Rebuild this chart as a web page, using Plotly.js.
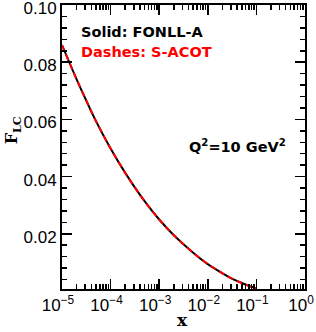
<!DOCTYPE html>
<html>
<head>
<meta charset="utf-8">
<script src="https://cdn.plot.ly/plotly-3.0.1.min.js"></script>
<style>html,body{margin:0;padding:0;background:#fff;}#chart{width:316px;height:332px;}</style>
</head>
<body>
<div id="chart"></div>
<script>
// x values (log scale)
const xValues = [1e-5, 2e-5, 3e-5, 5e-5, 1e-4, 2e-4, 5e-4, 1e-3, 2e-3, 5e-3, 1e-2, 2e-2, 3e-2, 5e-2, 7e-2, 1e-1];
// Solid: FONLL-A
const fonllA = [0.0860, 0.0740, 0.0674, 0.0594, 0.0498, 0.0413, 0.0314, 0.0250, 0.0195, 0.0134, 0.0094, 0.0062, 0.0045, 0.0028, 0.0018, 0.0009];
// Dashes: S-ACOT
const sAcot = [0.0860, 0.0740, 0.0674, 0.0594, 0.0498, 0.0413, 0.0314, 0.0250, 0.0195, 0.0134, 0.0094, 0.0062, 0.0045, 0.0028, 0.0018, 0.0009];
const xTickVals = [1e-5, 1e-4, 1e-3, 1e-2, 1e-1, 1];
const xTickText = ['10<sup>−5</sup>', '10<sup>−4</sup>', '10<sup>−3</sup>', '10<sup>−2</sup>', '10<sup>−1</sup>', '10<sup>0</sup>'];
const yTickVals = [0.02, 0.04, 0.06, 0.08, 0.10];
const yTickText = ['0.02', '0.04', '0.06', '0.08', '0.10'];

// minor tick positions 2..9 per decade
const xMinor = [];
for (let e = -5; e < 0; e++) for (let m = 2; m <= 9; m++) xMinor.push(m * Math.pow(10, e));

const font = 'Liberation Sans, Arial, sans-serif';
const bold = 'DejaVu Sans, sans-serif';
const traces = [
  {x: xValues, y: fonllA, mode: 'lines', line: {color: '#000', width: 2, shape: 'spline', smoothing: 1}, name: 'FONLL-A', hoverinfo: 'skip'},
  {x: xValues, y: sAcot, mode: 'lines', line: {color: '#ff0000', width: 2, dash: '6px,4px', shape: 'spline', smoothing: 1}, name: 'S-ACOT', hoverinfo: 'skip'}
];
const layout = {
  width: 316, height: 332,
  margin: {l: 62, r: 11, t: 5, b: 43},
  paper_bgcolor: '#fff', plot_bgcolor: '#fff',
  showlegend: false,
  font: {family: font, color: '#000', size: 17},
  xaxis: {
    type: 'log', range: [-5, 0],
    tickmode: 'array', tickvals: xTickVals, ticktext: xTickText,
    ticks: 'inside', ticklen: 10, tickwidth: 1.5, tickcolor: '#000',
    minor: {ticks: 'inside', ticklen: 5, tickwidth: 1.5, tickcolor: '#000', tickmode: 'array', tickvals: xMinor, showgrid: false},
    showline: true, linecolor: '#000', linewidth: 2, mirror: 'allticks',
    showgrid: false, zeroline: false,
    ticklabeloverflow: 'allow', ticklabelshift: -4,
    tickfont: {family: font, size: 17, color: '#000'},
    automargin: false
  },
  yaxis: {
    range: [0.0007, 0.1],
    tickmode: 'array', tickvals: yTickVals, ticktext: yTickText,
    ticks: 'inside', ticklen: 10, tickwidth: 1.5, tickcolor: '#000',
    minor: {ticks: 'inside', ticklen: 5, tickwidth: 1.5, tickcolor: '#000', dtick: 0.004, tick0: 0, showgrid: false},
    showline: true, linecolor: '#000', linewidth: 2, mirror: 'allticks',
    showgrid: false, zeroline: false,
    ticklabeloverflow: 'allow', ticklabelshift: 3,
    tickfont: {family: font, size: 17, color: '#000'},
    automargin: false
  },
  annotations: [
    {xref: 'paper', yref: 'paper', x: 0.07, y: 0.905, xanchor: 'left', yanchor: 'middle', showarrow: false,
     text: '<b>Solid: FONLL-A</b>', font: {family: bold, size: 14.5, color: '#000'}},
    {xref: 'paper', yref: 'paper', x: 0.07, y: 0.833, xanchor: 'left', yanchor: 'middle', showarrow: false,
     text: '<b>Dashes: S-ACOT</b>', font: {family: bold, size: 14.5, color: '#ff0000'}},
    {xref: 'paper', yref: 'paper', x: 0.93, y: 0.505, xanchor: 'right', yanchor: 'middle', showarrow: false,
     text: '<b>Q<sup>2</sup>=10 GeV<sup>2</sup></b>', font: {family: bold, size: 14.5, color: '#000'}},
    {xref: 'paper', yref: 'paper', x: -0.2, y: 0.56, xanchor: 'center', yanchor: 'middle', showarrow: false, textangle: -90,
     text: '<b>F<sub>LC</sub></b>', font: {family: 'DejaVu Serif, serif', size: 16, color: '#000'}},
    {xref: 'paper', yref: 'paper', x: 0.497, y: -0.108, xanchor: 'center', yanchor: 'middle', showarrow: false,
     text: '<b>x</b>', font: {family: 'DejaVu Serif, serif', size: 17, color: '#000'}}
  ]
};
Plotly.newPlot('chart', traces, layout, {staticPlot: true, displayModeBar: false});
</script>
</body>
</html>
